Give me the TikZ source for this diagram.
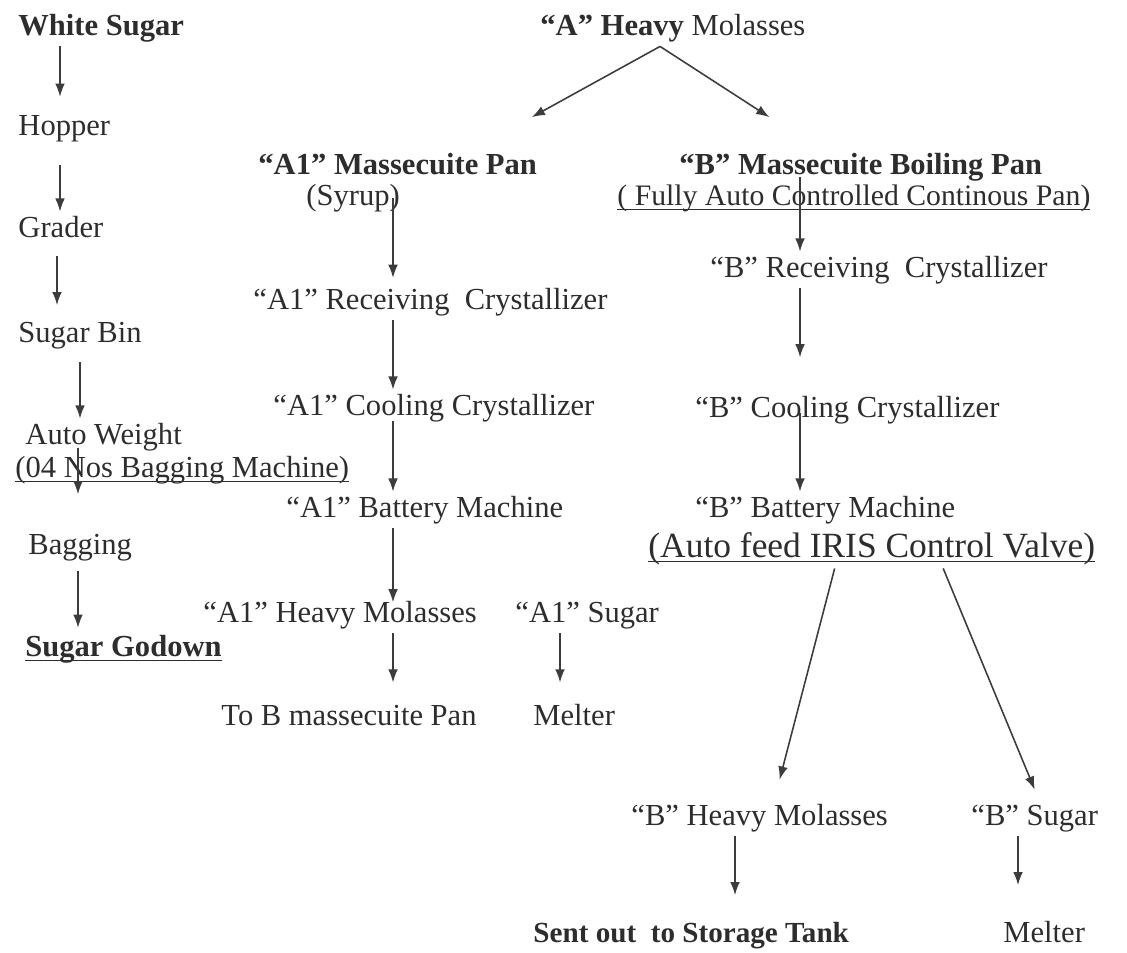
\documentclass[tikz,border=0pt]{standalone}
\usepackage{fontspec}
\setmainfont{Liberation Serif}
\usepackage{tikz}
\usetikzlibrary{arrows.meta, positioning, calc}
\definecolor{inkgray}{RGB}{45, 45, 45}
\definecolor{arrowgray}{RGB}{60, 60, 60}

\begin{document}
\begin{tikzpicture}[
  x=0.35pt, y=-0.35pt,
  txt/.style={anchor=west, inner sep=1pt, text=inkgray, text height=8pt, text depth=2.5pt, font=\fontsize{10.7}{13}\selectfont},
  bld/.style={txt, font=\fontsize{10.7}{13}\selectfont\bfseries},
  flow/.style={-{Latex[length=4.6pt,width=3.4pt]}, draw=arrowgray, line width=0.55pt}
]
  \useasboundingbox (0,0) rectangle (1127,952);

  % left column: packing line
  \node[bld] (ws)  at (15,28)  {White Sugar};
  \node[txt] (hop) at (15,128) {Hopper};
  \node[txt] (grd) at (15,230) {Grader};
  \node[txt] (bin) at (15,335) {Sugar Bin};
  \node[txt] (aw)  at (22,437) {Auto Weight};
  \node[txt] (bm)  at (12,470) {\underbar{(04 Nos Bagging Machine)}};
  \node[txt] (bag) at (25,547) {Bagging};
  \node[bld] (gd)  at (22,649) {\underbar{Sugar Godown}};

  % middle column: A1 massecuite
  \node[txt] (amol)  at (537,28)  {\textbf{“A” Heavy} Molasses};
  \node[bld] (a1pan) at (255,167) {“A1” Massecuite Pan};
  \node[txt] (syr)   at (303,198) {(Syrup)};
  \node[txt] (rec)   at (250,302) {“A1” Receiving\ \ Crystallizer};
  \node[txt] (cool)  at (270,408) {“A1” Cooling Crystallizer};
  \node[txt] (bat)   at (283,510) {“A1” Battery Machine};
  \node[txt] (a1hm)  at (200,615) {“A1” Heavy Molasses};
  \node[txt] (a1s)   at (512,615) {“A1” Sugar};
  \node[txt] (tob)   at (218,718) {To B massecuite Pan};
  \node[txt] (melt)  at (530,718) {Melter};

  % right column: B massecuite
  \node[bld] (bpan)  at (676,167) {“B” Massecuite Boiling Pan};
  \node[txt, font=\fontsize{10.4}{13}\selectfont] (bfull) at (614,198) {\underbar{( Fully Auto Controlled Continous Pan)}};
  \node[txt] (brec)  at (707,270) {“B” Receiving\ \ Crystallizer};
  \node[txt] (bcool) at (692,410) {“B” Cooling Crystallizer};
  \node[txt] (bbat)  at (692,510) {“B” Battery Machine};
  \node[txt, font=\fontsize{12.4}{15}\selectfont] (valve) at (645,550) {\underbar{(Auto feed IRIS Control Valve)}};
  \node[txt] (bhm)   at (628,818) {“B” Heavy Molasses};
  \node[txt] (bsug)  at (968,818) {“B” Sugar};
  \node[bld, font=\fontsize{10.2}{13}\selectfont\bfseries] (sent) at (530,935) {Sent out\ \ to Storage Tank};
  \node[txt] (bmelt) at (1000,935) {Melter};

  \coordinate (xl1) at (60,0);
  \coordinate (xl2) at (57,0);
  \coordinate (xl3) at (80,0);
  \coordinate (xl4) at (78,0);
  \coordinate (xa)  at (393,0);
  \coordinate (xas) at (560,0);
  \coordinate (xb)  at (800,0);
  \coordinate (xbh) at (735,0);
  \coordinate (xbs) at (1018,0);

  \draw[flow, shorten >=4.5pt] (ws.south -| xl1) -- (hop.north -| xl1);
  \draw[flow, shorten <=6.5pt] (hop.south -| xl1) -- (grd.north -| xl1);
  \draw[flow, shorten <=2.5pt, shorten >=4pt] (grd.south -| xl2) -- (bin.north -| xl2);
  \draw[flow, shorten <=3pt] (bin.south -| xl3) -- (aw.north -| xl3);
  \draw[flow, shorten <=-2.5pt, shorten >=12pt] (aw.south -| xl4) -- (bag.north -| xl4);
  \draw[flow, shorten <=2pt, shorten >=1pt] (bag.south -| xl4) -- (gd.north -| xl4);

  \draw[flow] ([xshift=-4.5pt]amol.south) -- ([xshift=-3pt,yshift=11pt]a1pan.north east);
  \draw[flow] ([xshift=-4.5pt]amol.south) -- ([xshift=-32pt,yshift=11pt]bpan.north);

  \draw[flow, shorten >=2pt] (syr -| xa) -- (rec.north -| xa);
  \draw[flow] (rec.south -| xa) -- (cool.north -| xa);
  \draw[flow, shorten <=-2pt] (cool.south -| xa) -- (bat.north -| xa);
  \draw[flow, shorten >=-2pt] (bat.south -| xa) -- (a1hm.north -| xa);
  \draw[flow, shorten >=6pt] (a1hm.south -| xa) -- (tob.north -| xa);
  \draw[flow, shorten >=6pt] (a1s.south -| xas) -- (melt.north -| xas);

  \draw[flow, shorten <=-3pt] (bpan.south -| xb) -- (brec.north -| xb);
  \draw[flow, shorten >=12pt] (brec.south -| xb) -- (bcool.north -| xb);
  \draw[flow, shorten <=1pt] (bcool -| xb) -- (bbat.north -| xb);
  \draw[flow] ([xshift=-13pt]valve.south) -- ([xshift=7pt,yshift=7pt]bhm.north);
  \draw[flow] ([xshift=25pt]valve.south) -- ([yshift=3.5pt]bsug.north);
  \draw[flow, shorten >=7.5pt] (bhm.south -| xbh) -- (sent.north -| xbh);
  \draw[flow, shorten >=11pt] (bsug.south -| xbs) -- (bmelt.north -| xbs);
\end{tikzpicture}
\end{document}
